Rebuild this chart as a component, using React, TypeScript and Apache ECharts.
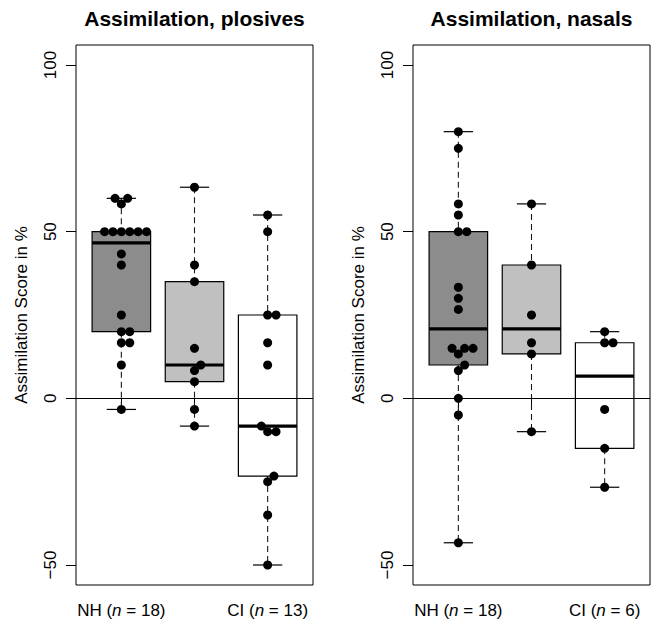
import React, { useEffect, useRef } from 'react';
import * as echarts from 'echarts';

// ---- data ----
const panelTitles = ['Assimilation, plosives', 'Assimilation, nasals'];
const yAxisTitle = 'Assimilation Score in %';
const groupNames = ['NH', '', 'CI'];
const groupPositions = [1, 2, 3];
const yTickValues = [-50, 0, 50, 100];

const plosivesNH = [60, 60, 58.33, 50, 50, 50, 50, 50, 50, 43.33, 40, 25, 20, 20, 16.67, 16.67, 10, -3.33];
const plosivesMid = [63.33, 40, 35, 15, 10, 8.33, 5, -3.33, -8.33];
const plosivesCI = [55, 50, 25, 25, 16.67, 10, -8.33, -10, -10, -23.33, -25, -35, -50];

const nasalsNH = [80, 75, 58.33, 55, 50, 50, 33.33, 30, 26.67, 15, 15, 15, 13.33, 10, 8.33, 0, -5, -43.33];
const nasalsMid = [58.33, 40, 25, 16.67, 13.33, -10];
const nasalsCI = [20, 16.67, 16.67, -3.33, -15, -26.67];

const panels = [
  [plosivesNH, plosivesMid, plosivesCI],
  [nasalsNH, nasalsMid, nasalsCI],
];

// ---- styling / layout ----
const FONT = '"Liberation Sans", Arial, Helvetica, sans-serif';
const boxFills = ['#8c8c8c', '#c0c0c0', '#ffffff'];
const X_MIN = 0.38;
const X_MAX = 3.62;
const Y_MIN = -56;
const Y_MAX = 106;
const GRID_W = 237;
const GRID_H = 540;
const GRID_TOP = 45;
const GRID_LEFTS = [76, 413];
const DOT = 9;
const SWARM_D = 8.4;

function fivenum(values: number[]): number[] {
  const x = [...values].sort((a, b) => a - b);
  const n = x.length;
  const n4 = Math.floor((n + 3) / 2) / 2;
  const d = [1, n4, (n + 1) / 2, n + 1 - n4, n];
  return d.map((di) => 0.5 * (x[Math.floor(di) - 1] + x[Math.ceil(di) - 1]));
}

function boxStats(values: number[]) {
  const [, q1, med, q3] = fivenum(values);
  const iqr = q3 - q1;
  const loFence = q1 - 1.5 * iqr;
  const hiFence = q3 + 1.5 * iqr;
  const inside = values.filter((v) => v >= loFence && v <= hiFence);
  return [Math.min(...inside), q1, med, q3, Math.max(...inside)];
}

// beeswarm "swarm" placement (ascending order), returns x data positions
function swarm(values: number[], center: number, pxPerX: number, pxPerY: number, d: number): number[] {
  const order = values.map((_, i) => i).sort((a, b) => values[a] - values[b]);
  const placed: { x: number; y: number }[] = [];
  const out: number[] = new Array(values.length);
  for (const i of order) {
    const y = values[i] * pxPerY;
    const cands = [0];
    for (const p of placed) {
      const dy = Math.abs(p.y - y);
      if (dy < d) {
        const dx = Math.sqrt(d * d - dy * dy);
        cands.push(p.x + dx, p.x - dx);
      }
    }
    const valid = cands.filter((c) =>
      placed.every((p) => (p.x - c) * (p.x - c) + (p.y - y) * (p.y - y) >= d * d - 1e-6)
    );
    valid.sort((a, b) => Math.abs(a) - Math.abs(b) || b - a);
    const x = valid[0];
    placed.push({ x, y });
    out[i] = center + x / pxPerX;
  }
  return out;
}

function buildOption() {
  const pxPerX = GRID_W / (X_MAX - X_MIN);
  const pxPerY = GRID_H / (Y_MAX - Y_MIN);

  const grids = GRID_LEFTS.map((left) => ({
    left,
    top: GRID_TOP,
    width: GRID_W,
    height: GRID_H,
    show: true,
    borderColor: '#000',
    borderWidth: 1,
    backgroundColor: 'transparent',
  }));

  const xAxes = panels.map((groups, pi) => ({
    type: 'value',
    gridIndex: pi,
    min: X_MIN,
    max: X_MAX,
    axisLine: { show: false },
    splitLine: { show: false },
    axisTick: { show: true, inside: false, length: 10, lineStyle: { color: '#000', width: 1 }, customValues: groupPositions },
    axisLabel: {
      show: true,
      margin: 17,
      customValues: groupPositions,
      formatter: (v: number) => {
        const gi = groupPositions.indexOf(Math.round(v));
        if (gi < 0 || !groupNames[gi]) return '';
        return `{r|${groupNames[gi]} (}{i|n}{r| = ${groups[gi].length})}`;
      },
      rich: {
        r: { fontSize: 17, fontFamily: FONT, color: '#000' },
        i: { fontSize: 17, fontFamily: FONT, color: '#000', fontStyle: 'italic' },
      },
    },
  }));

  const yAxes = panels.map((_, pi) => ({
    type: 'value',
    gridIndex: pi,
    min: Y_MIN,
    max: Y_MAX,
    name: yAxisTitle,
    nameLocation: 'middle',
    nameRotate: 90,
    nameGap: 46,
    nameTextStyle: { fontSize: 17, fontFamily: FONT, color: '#000' },
    axisLine: { show: false },
    splitLine: { show: false },
    axisTick: { show: true, inside: false, length: 10, lineStyle: { color: '#000', width: 1 }, customValues: yTickValues },
    axisLabel: {
      show: true,
      rotate: 90,
      margin: 17,
      customValues: yTickValues,
      fontSize: 17,
      fontFamily: FONT,
      color: '#000',
      formatter: (v: number) => (v < 0 ? '\u2212' + Math.abs(v) : String(v)),
    },
  }));

  const series: any[] = [];
  panels.forEach((groups, pi) => {
    const boxData = groups.map((vals, gi) => [groupPositions[gi], ...boxStats(vals), gi]);
    series.push({
      type: 'custom',
      xAxisIndex: pi,
      yAxisIndex: pi,
      z: 2,
      encode: { x: 0, y: [1, 2, 3, 4, 5] },
      data: boxData,
      renderItem: (params: any, api: any) => {
        const x = api.value(0);
        const lo = api.value(1);
        const q1 = api.value(2);
        const med = api.value(3);
        const q3 = api.value(4);
        const hi = api.value(5);
        const gi = api.value(6);
        const hw = 0.4;
        const sw = 0.2;
        const c = (a: number, b: number) => api.coord([a, b]);
        const pHi = c(x, hi);
        const pQ3 = c(x, q3);
        const pQ1 = c(x, q1);
        const pLo = c(x, lo);
        const tl = c(x - hw, q3);
        const br = c(x + hw, q1);
        const mL = c(x - hw, med);
        const mR = c(x + hw, med);
        const sHiL = c(x - sw, hi);
        const sHiR = c(x + sw, hi);
        const sLoL = c(x - sw, lo);
        const sLoR = c(x + sw, lo);
        const dash = { stroke: '#1a1a1a', lineWidth: 1.1, lineDash: [6, 4] };
        const solid = { stroke: '#000', lineWidth: 1.2 };
        return {
          type: 'group',
          children: [
            { type: 'line', shape: { x1: pHi[0], y1: pHi[1], x2: pQ3[0], y2: pQ3[1] }, style: dash },
            { type: 'line', shape: { x1: pQ1[0], y1: pQ1[1], x2: pLo[0], y2: pLo[1] }, style: dash },
            { type: 'line', shape: { x1: sHiL[0], y1: sHiL[1], x2: sHiR[0], y2: sHiR[1] }, style: solid },
            { type: 'line', shape: { x1: sLoL[0], y1: sLoL[1], x2: sLoR[0], y2: sLoR[1] }, style: solid },
            {
              type: 'rect',
              shape: { x: tl[0], y: tl[1], width: br[0] - tl[0], height: br[1] - tl[1] },
              style: { fill: boxFills[gi], stroke: '#000', lineWidth: 1.2 },
            },
            { type: 'line', shape: { x1: mL[0], y1: mL[1], x2: mR[0], y2: mR[1] }, style: { stroke: '#000', lineWidth: 3.2 } },
          ],
        };
      },
    });

    const pts: number[][] = [];
    groups.forEach((vals, gi) => {
      const xs = swarm(vals, groupPositions[gi], pxPerX, pxPerY, SWARM_D);
      vals.forEach((v, k) => pts.push([xs[k], v]));
    });
    series.push({
      type: 'scatter',
      xAxisIndex: pi,
      yAxisIndex: pi,
      z: 4,
      symbol: 'circle',
      symbolSize: DOT,
      itemStyle: { color: '#000', opacity: 1 },
      data: pts,
      markLine: {
        silent: true,
        symbol: 'none',
        label: { show: false },
        lineStyle: { color: '#000', width: 1, type: 'solid' },
        data: [{ yAxis: 0 }],
      },
    });
  });

  const titles = panelTitles.map((t, pi) => ({
    text: t,
    left: GRID_LEFTS[pi] + GRID_W / 2,
    top: 8,
    padding: 0,
    textAlign: 'center',
    textStyle: { fontSize: 21, fontWeight: 'bold', fontFamily: FONT, color: '#000' },
  }));

  return {
    animation: false,
    backgroundColor: '#fff',
    title: titles,
    grid: grids,
    xAxis: xAxes,
    yAxis: yAxes,
    series,
  };
}

export default function App() {
  const ref = useRef<HTMLDivElement>(null);
  useEffect(() => {
    if (!ref.current) return;
    const chart = echarts.init(ref.current, undefined, { renderer: 'svg' });
    chart.setOption(buildOption() as any);
    return () => chart.dispose();
  }, []);
  return (
    <div
      ref={ref}
      style={{ position: 'absolute', left: 0, top: 0, width: 655, height: 621, background: '#fff' }}
    />
  );
}
